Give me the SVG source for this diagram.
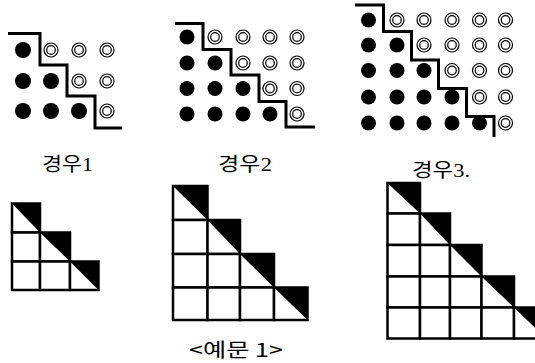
<svg xmlns="http://www.w3.org/2000/svg" width="535" height="363" viewBox="0 0 535 363">
<style>
.step{fill:none;stroke:#000;stroke-width:3;stroke-linejoin:miter}
.dot{fill:#000}
.ring{fill:none;stroke:#000;stroke-width:1.2}
.cell{fill:#fff;stroke:#000;stroke-width:2.5}
.tri{fill:#000}
.diag{stroke:#000;stroke-width:1.5}
.lbl{font-family:'Liberation Serif','Noto Sans CJK KR',serif;font-size:19px;fill:#000}
.cap{font-family:'Noto Sans CJK KR',sans-serif;font-size:19px;fill:#000}
</style>
<defs>
<g id="open"><circle class="ring" r="7"/><circle class="ring" r="4.3"/></g>
</defs>
<rect width="535" height="363" fill="#fff"/>

<g id="case1-dots">
<polyline class="step" points="8,33.5 40,33.5 40,65 67,65 67,96 95,96 95,128 122,128"/>
<circle class="dot" cx="23" cy="50" r="8"/>
<use href="#open" x="51" y="50"/><use href="#open" x="79" y="50"/><use href="#open" x="107" y="50"/>
<circle class="dot" cx="23" cy="81" r="8"/><circle class="dot" cx="51" cy="81" r="8"/>
<use href="#open" x="79" y="81"/><use href="#open" x="107" y="81"/>
<circle class="dot" cx="23" cy="111" r="8"/><circle class="dot" cx="51" cy="111" r="8"/><circle class="dot" cx="79" cy="111" r="8"/>
<use href="#open" x="107" y="111"/>
</g>

<g id="case2-dots">
<polyline class="step" points="175,23.5 203,23.5 203,49.5 231,49.5 231,75 259,75 259,101.5 286,101.5 286,127 315,127"/>
<circle class="dot" cx="187" cy="37" r="7.5"/>
<use href="#open" x="215" y="37"/><use href="#open" x="243" y="37"/><use href="#open" x="270" y="37"/><use href="#open" x="297" y="37"/>
<circle class="dot" cx="187" cy="63" r="7.5"/><circle class="dot" cx="215" cy="63" r="7.5"/>
<use href="#open" x="243" y="63"/><use href="#open" x="270" y="63"/><use href="#open" x="297" y="63"/>
<circle class="dot" cx="187" cy="88.5" r="7.5"/><circle class="dot" cx="215" cy="88.5" r="7.5"/><circle class="dot" cx="243" cy="88.5" r="7.5"/>
<use href="#open" x="270" y="88.5"/><use href="#open" x="297" y="88.5"/>
<circle class="dot" cx="187" cy="114" r="7.5"/><circle class="dot" cx="215" cy="114" r="7.5"/><circle class="dot" cx="243" cy="114" r="7.5"/><circle class="dot" cx="270" cy="114" r="7.5"/>
<use href="#open" x="297" y="114"/>
</g>

<g id="case3-dots">
<polyline class="step" points="355,5 383.5,5 383.5,31.5 411.5,31.5 411.5,60 438.5,60 438.5,88.5 466.5,88.5 466.5,116.5 494,116.5 494,137"/>
<circle class="dot" cx="368.5" cy="20" r="7.5"/>
<use href="#open" x="397" y="20"/><use href="#open" x="424" y="20"/><use href="#open" x="452" y="20"/><use href="#open" x="479.5" y="20"/><use href="#open" x="505.5" y="20"/>
<circle class="dot" cx="368.5" cy="45" r="7.5"/><circle class="dot" cx="397" cy="45" r="7.5"/>
<use href="#open" x="424" y="45"/><use href="#open" x="452" y="45"/><use href="#open" x="479.5" y="45"/><use href="#open" x="505.5" y="45"/>
<circle class="dot" cx="368.5" cy="70.5" r="7.5"/><circle class="dot" cx="397" cy="70.5" r="7.5"/><circle class="dot" cx="424" cy="70.5" r="7.5"/>
<use href="#open" x="452" y="70.5"/><use href="#open" x="479.5" y="70.5"/><use href="#open" x="505.5" y="70.5"/>
<circle class="dot" cx="368.5" cy="97" r="7.5"/><circle class="dot" cx="397" cy="97" r="7.5"/><circle class="dot" cx="424" cy="97" r="7.5"/><circle class="dot" cx="452" cy="97" r="7.5"/>
<use href="#open" x="479.5" y="97"/><use href="#open" x="505.5" y="97"/>
<circle class="dot" cx="368.5" cy="123" r="7.5"/><circle class="dot" cx="397" cy="123" r="7.5"/><circle class="dot" cx="424" cy="123" r="7.5"/><circle class="dot" cx="452" cy="123" r="7.5"/><circle class="dot" cx="479.5" cy="123" r="7.5"/>
<use href="#open" x="505.5" y="123"/>
</g>

<g id="labels">
<text class="lbl" x="42" y="171" textLength="51" lengthAdjust="spacingAndGlyphs">경우1</text>
<text class="lbl" x="218" y="171" textLength="54" lengthAdjust="spacingAndGlyphs">경우2</text>
<text class="lbl" x="412" y="177" textLength="58" lengthAdjust="spacingAndGlyphs">경우3.</text>
<text class="cap" x="189" y="357" textLength="94" lengthAdjust="spacingAndGlyphs">&lt;예문 1&gt;</text>
</g>

<g id="grid1">
<rect class="cell" x="12" y="203.5" width="28" height="29"/>
<rect class="cell" x="12" y="232.5" width="28" height="29"/>
<rect class="cell" x="40" y="232.5" width="30" height="29"/>
<rect class="cell" x="12" y="261.5" width="28" height="28.5"/>
<rect class="cell" x="40" y="261.5" width="30" height="28.5"/>
<rect class="cell" x="70" y="261.5" width="28.5" height="28.5"/>
<polygon class="tri" points="12,203.5 40,203.5 40,232.5"/>
<polygon class="tri" points="40,232.5 70,232.5 70,261.5"/>
<polygon class="tri" points="70,261.5 98.5,261.5 98.5,290"/>
</g>

<g id="grid2">
<rect class="cell" x="173" y="186" width="34.5" height="34"/>
<rect class="cell" x="173" y="220" width="34.5" height="34"/>
<rect class="cell" x="207.5" y="220" width="32.5" height="34"/>
<rect class="cell" x="173" y="254" width="34.5" height="33.5"/>
<rect class="cell" x="207.5" y="254" width="32.5" height="33.5"/>
<rect class="cell" x="240" y="254" width="34" height="33.5"/>
<rect class="cell" x="173" y="287.5" width="34.5" height="32.5"/>
<rect class="cell" x="207.5" y="287.5" width="32.5" height="32.5"/>
<rect class="cell" x="240" y="287.5" width="34" height="32.5"/>
<rect class="cell" x="274" y="287.5" width="33.5" height="32.5"/>
<polygon class="tri" points="173,186 207.5,186 207.5,220"/>
<polygon class="tri" points="207.5,220 240,220 240,254"/>
<polygon class="tri" points="240,254 274,254 274,287.5"/>
<polygon class="tri" points="274,287.5 307.5,287.5 307.5,320"/>
</g>

<g id="grid3">
<rect class="cell" x="387.5" y="183" width="32.5" height="30.5"/>
<rect class="cell" x="387.5" y="213.5" width="32.5" height="31.5"/>
<rect class="cell" x="420" y="213.5" width="30" height="31.5"/>
<rect class="cell" x="387.5" y="245" width="32.5" height="31.5"/>
<rect class="cell" x="420" y="245" width="30" height="31.5"/>
<rect class="cell" x="450" y="245" width="31.5" height="31.5"/>
<rect class="cell" x="387.5" y="276.5" width="32.5" height="31"/>
<rect class="cell" x="420" y="276.5" width="30" height="31"/>
<rect class="cell" x="450" y="276.5" width="31.5" height="31"/>
<rect class="cell" x="481.5" y="276.5" width="32.5" height="31"/>
<rect class="cell" x="387.5" y="307.5" width="32.5" height="31"/>
<rect class="cell" x="420" y="307.5" width="30" height="31"/>
<rect class="cell" x="450" y="307.5" width="31.5" height="31"/>
<rect class="cell" x="481.5" y="307.5" width="32.5" height="31"/>
<rect class="cell" x="514" y="307.5" width="32" height="31"/>
<polygon class="tri" points="387.5,183 420,183 420,213.5"/>
<polygon class="tri" points="420,213.5 450,213.5 450,245"/>
<polygon class="tri" points="450,245 481.5,245 481.5,276.5"/>
<polygon class="tri" points="481.5,276.5 514,276.5 514,307.5"/>
<polygon class="tri" points="514,307.5 546,307.5 546,338.5"/>
</g>
</svg>
